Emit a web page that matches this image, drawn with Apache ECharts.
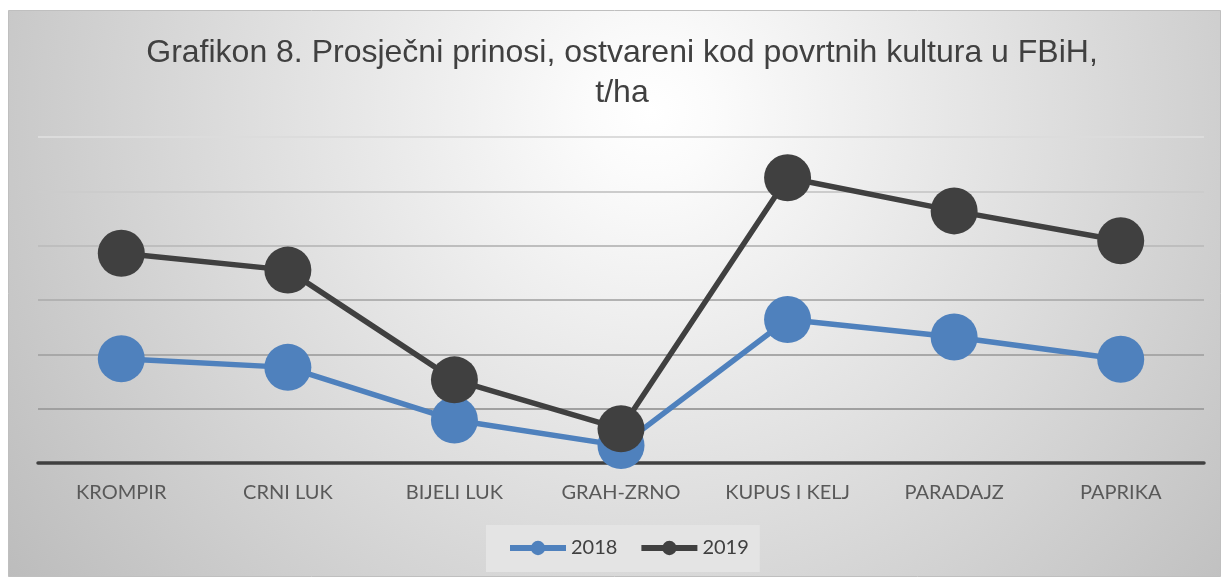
<!DOCTYPE html>
<html><head><meta charset="utf-8">
<script src="https://cdn.jsdelivr.net/npm/echarts@6/dist/echarts.min.js"></script>
<style>html,body{margin:0;padding:0;background:#fff}#c{width:1223px;height:578px}</style>
</head><body><div id="c"></div>
<script>
const categories = ['KROMPIR', 'CRNI LUK', 'BIJELI LUK', 'GRAH-ZRNO', 'KUPUS I KELJ', 'PARADAJZ', 'PAPRIKA'];
const series2018 = [9.6, 8.8, 3.95, 1.6, 13.2, 11.6, 9.55];
const series2019 = [19.3, 17.75, 7.65, 3.15, 26.25, 23.2, 20.45];
const seriesNames = ['2018', '2019'];
const titleText = 'Grafikon 8. Prosječni prinosi, ostvareni kod povrtnih kultura u FBiH,\nt/ha';

const chart = echarts.init(document.getElementById('c'), null, {renderer: 'canvas'});
chart.setOption({
  animation: false,
  graphic: [{
    type: 'rect', z: -10, silent: true,
    shape: {x: 8.5, y: 10.5, width: 1212, height: 566},
    style: {
      fill: {type: 'radial', x: 0.53, y: 0.18, r: 1.4,
        colorStops: [{offset: 0, color: '#ffffff'}, {offset: 0.08, color: '#fbfbfb'}, {offset: 1, color: '#bcbcbc'}]},
      stroke: '#bfbfbf', lineWidth: 1
    }
  }],
  title: {
    text: titleText, left: 617, top: 28, textAlign: 'center',
    textStyle: {fontFamily: 'Liberation Sans', fontSize: 32, fontWeight: 'normal', color: '#404040', lineHeight: 40}
  },
  legend: {
    top: 525, left: 486,
    data: seriesNames,
    backgroundColor: '#e4e4e4',
    padding: [13, 11, 14, 21],
    itemWidth: 56, itemHeight: 18, itemGap: 21,
    lineStyle: {width: 6},
    textStyle: {fontFamily: 'Lato', fontSize: 20, color: '#404040'}
  },
  grid: {left: 38, right: 19, top: 137, bottom: 115, containLabel: false},
  xAxis: {
    type: 'category', data: categories, boundaryGap: true,
    axisLine: {lineStyle: {color: '#404040', width: 3.5}},
    axisTick: {show: false},
    axisLabel: {margin: 20, fontFamily: 'Lato', fontSize: 20, color: '#595959'}
  },
  yAxis: {
    type: 'value', min: 0, max: 30, interval: 5,
    axisLabel: {show: false}, axisLine: {show: false}, axisTick: {show: false},
    splitLine: {lineStyle: {width: 2, color: ['#9a9a9a', '#a0a0a0', '#a8a8a8', '#b2b2b2', '#bebebe', '#cccccc', '#dcdcdc']}}
  },
  series: [
    {name: seriesNames[0], type: 'line', data: series2018, symbol: 'circle', symbolSize: 47,
      itemStyle: {color: '#4f81bd'}, lineStyle: {color: '#4f81bd', width: 5.5}},
    {name: seriesNames[1], type: 'line', data: series2019, symbol: 'circle', symbolSize: 47,
      itemStyle: {color: '#404040'}, lineStyle: {color: '#404040', width: 5.5}}
  ]
});
</script></body></html>
